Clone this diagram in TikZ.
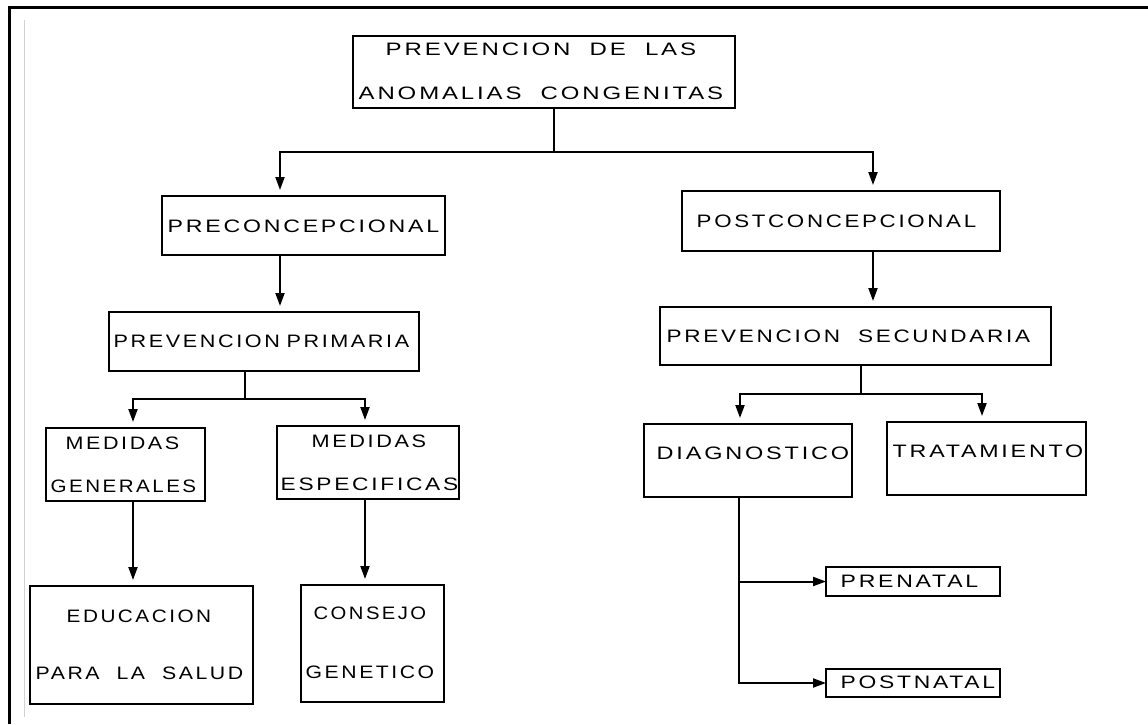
\documentclass[tikz,border=0pt]{standalone}
\usepackage{fontspec}
\usetikzlibrary{arrows.meta}
\newfontfamily\lblfont[FakeStretch=1.25,LetterSpace=15,WordSpace=2]{Liberation Sans}
\newsavebox\fwbox
\newcommand\fw[2]{\sbox\fwbox{#2}\pgfmathparse{(#1+4.5)/\the\wd\fwbox}\scalebox{\pgfmathresult}[1]{\usebox\fwbox}}
\begin{document}
\begin{tikzpicture}[x=1pt,y=-1pt,
  box/.style={draw,line width=1.8pt,inner sep=0pt,outer sep=0pt},
  txt/.style={inner sep=0pt,anchor=base west,xshift=-1.5pt,font=\lblfont\fontsize{18}{18}\selectfont},
  conn/.style={line width=2pt},
  arr/.style={conn,-{Triangle[width=9pt,length=13pt]},shorten >=6pt},
  arrh/.style={conn,-{Triangle[width=9pt,length=13pt]}}]
\useasboundingbox (0,0) rectangle (1148,724);
% frame
\draw[line width=3pt] (9.5,724) -- (9.5,7) -- (1148,7);
\draw[gray!35,line width=0.8pt] (24.5,20) -- (24.5,717);
% boxes
\node[box,minimum width=382pt,minimum height=72pt] (top) at (544,72) {};
\node[box,minimum width=283pt,minimum height=59pt] (precon) at (303.5,225.5) {};
\node[box,minimum width=318pt,minimum height=60pt] (postcon) at (841,221) {};
\node[box,minimum width=310pt,minimum height=59pt] (primaria) at (264,341.5) {};
\node[box,minimum width=159pt,minimum height=73pt] (generales) at (125.5,464.5) {};
\node[box,minimum width=182pt,minimum height=73pt] (especificas) at (368,462.5) {};
\node[box,minimum width=223pt,minimum height=118pt] (educacion) at (141.5,645) {};
\node[box,minimum width=143pt,minimum height=117pt] (consejo) at (372.5,643.5) {};
\node[box,minimum width=391pt,minimum height=58pt] (secundaria) at (855.5,336) {};
\node[box,minimum width=208pt,minimum height=73pt] (diagnostico) at (748,460.5) {};
\node[box,minimum width=199pt,minimum height=73pt] (tratamiento) at (986.5,458.5) {};
\node[box,minimum width=174pt,minimum height=29pt] (prenatal) at (913,581.5) {};
\node[box,minimum width=174pt,minimum height=28pt] (postnatal) at (913,683) {};
% texts
\node[txt] (t1) at (387,55) {\fw{306}{PREVENCION DE LAS}};
\node[txt] (t2) at (360,99) {\fw{360}{ANOMALIAS CONGENITAS}};
\node[txt] (t3) at (169,232) {\fw{267}{PRECONCEPCIONAL}};
\node[txt] (t4) at (698,227) {\fw{275}{POSTCONCEPCIONAL}};
\node[txt] (t5) at (115,347) {\fw{291}{PREVENCION\hspace*{7pt}PRIMARIA}};
\node[txt] (t6) at (67,449) {\fw{109}{MEDIDAS}};
\node[txt] (t7) at (52,492) {\fw{141}{GENERALES}};
\node[txt] (t8) at (313,447) {\fw{110}{MEDIDAS}};
\node[txt] (t9) at (282,490) {\fw{173}{ESPECIFICAS}};
\node[txt] (t10) at (68,622) {\fw{140}{EDUCACION}};
\node[txt] (t11) at (37,679) {\fw{203}{PARA LA SALUD}};
\node[txt] (t12) at (315,619) {\fw{108}{CONSEJO}};
\node[txt] (t13) at (307,678) {\fw{124}{GENETICO}};
\node[txt] (t14) at (668,342) {\fw{359}{PREVENCION SECUNDARIA}};
\node[txt] (t15) at (658,459) {\fw{188}{DIAGNOSTICO}};
\node[txt] (t16) at (894,457) {\fw{186}{TRATAMIENTO}};
\node[txt] (t17) at (842,587) {\fw{133}{PRENATAL}};
\node[txt] (t18) at (842,688) {\fw{150}{POSTNATAL}};
% connector coordinates
\coordinate (j1) at (554,152);
\coordinate (cL) at (280,0);
\coordinate (cR) at (873,0);
\coordinate (j2) at (245,399);
\coordinate (gL) at (133,0);
\coordinate (gR) at (365,0);
\coordinate (j3) at (861,394);
\coordinate (dL) at (740,0);
\coordinate (dR) at (982,0);
\coordinate (dv) at (739,0);
% connectors
\draw[conn] (top.south -| j1) -- (j1);
\draw[arr] (j1) -| (precon.north -| cL);
\draw[arr] (j1) -| (postcon.north -| cR);
\draw[arr] (precon.south -| cL) -- (primaria.north -| cL);
\draw[arr] (postcon.south -| cR) -- (secundaria.north -| cR);
\draw[conn] (primaria.south -| j2) -- (j2);
\draw[arr] (j2) -| (generales.north -| gL);
\draw[arr] (j2) -| (especificas.north -| gR);
\draw[arr] (generales.south -| gL) -- (educacion.north -| gL);
\draw[arr] (especificas.south -| gR) -- (consejo.north -| gR);
\draw[conn] (secundaria.south -| j3) -- (j3);
\draw[arr] (j3) -| (diagnostico.north -| dL);
\draw[arr] (j3) -| (tratamiento.north -| dR);
\draw[arrh] (diagnostico.south -| dv) |- (postnatal.west);
\draw[arrh] (prenatal.west -| dv) -- (prenatal.west);
\end{tikzpicture}
\end{document}
